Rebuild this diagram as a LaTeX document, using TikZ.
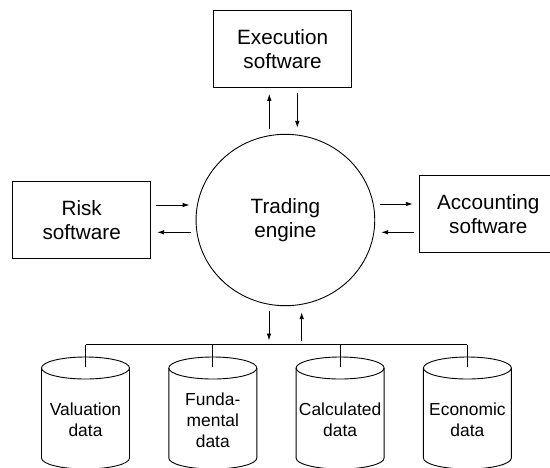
\documentclass[tikz,border=0pt]{standalone}
\usepackage{fontspec}
\setmainfont{Liberation Sans}
\usetikzlibrary{shapes.geometric,arrows.meta}

\begin{document}
\begin{tikzpicture}[x=1pt,y=-1pt,line width=0.9pt,
    swbox/.style={draw,rectangle,minimum width=138pt,minimum height=77pt,align=center,font=\fontsize{20.7}{24.3}\selectfont},
    engine/.style={draw,ellipse,minimum width=178.7pt,minimum height=171.4pt,align=center,font=\fontsize{20.7}{24.3}\selectfont},
    dblabel/.style={align=center,inner sep=0pt,font=\fontsize{17.4}{21}\selectfont},
    flow/.style={-{Latex[length=7pt,width=4.6pt]},shorten <=5pt,shorten >=6pt}]
            \useasboundingbox (0,0) rectangle (550,467);

            \node[swbox] (exec) at (282.6,49) {Execution\\software};
            \node[engine] (eng) at (285.4,220) {Trading\\engine};
            \node[swbox] (risk) at (81.7,220) {Risk\\software};
            \node[swbox] (acct) at (488.3,214.3) {Accounting\\software};

            \coordinate (rin) at (0,205);
            \coordinate (rout) at (0,232.3);
            \coordinate (ain) at (0,204);
            \coordinate (aout) at (0,232.3);
            \coordinate (eup) at (269.3,0);
            \coordinate (edown) at (297.3,0);
            \coordinate (bdown) at (269,0);
            \coordinate (bup) at (301.7,0);

            \draw[flow] (risk.east |- rin) -- (eng.west |- rin);
            \draw[flow] (eng.west |- rout) -- (risk.east |- rout);
            \draw[flow] (eng.east |- ain) -- (acct.west |- ain);
            \draw[flow] (acct.west |- aout) -- (eng.east |- aout);
            \draw[flow] (eng.north -| eup) -- (exec.south -| eup);
            \draw[flow] (exec.south -| edown) -- (eng.north -| edown);

            \coordinate (busl) at (85.5,344.5);
            \coordinate (busr) at (467.4,344.5);
            \draw[line width=1.4pt] (busl) -- (busr);

            \draw[flow,shorten >=4pt] (eng.south -| bdown) -- (busl -| bdown);
            \draw[flow,shorten <=4pt] (busl -| bup) -- (eng.south -| bup);

            \foreach \x/\nm/\txt in {85.5/valdata/{Valuation\\data},212.8/funddata/{Funda-\\mental\\data},340.1/calcdata/{Calculated\\data},467.4/econdata/{Economic\\data}}
            {
                \draw (\x-44,368) -- (\x-44,458) arc[start angle=180,end angle=360,x radius=44pt,y radius=11pt] -- (\x+44,368);
                \draw (\x,368) ellipse[x radius=44pt,y radius=11pt];
                \coordinate (\nm top) at (\x,367);
                \draw (busl -| \nm top) -- (\nm top);
                \node[dblabel] (\nm) at (\x,420) {\txt};
            }
        \end{tikzpicture}
\end{document}
